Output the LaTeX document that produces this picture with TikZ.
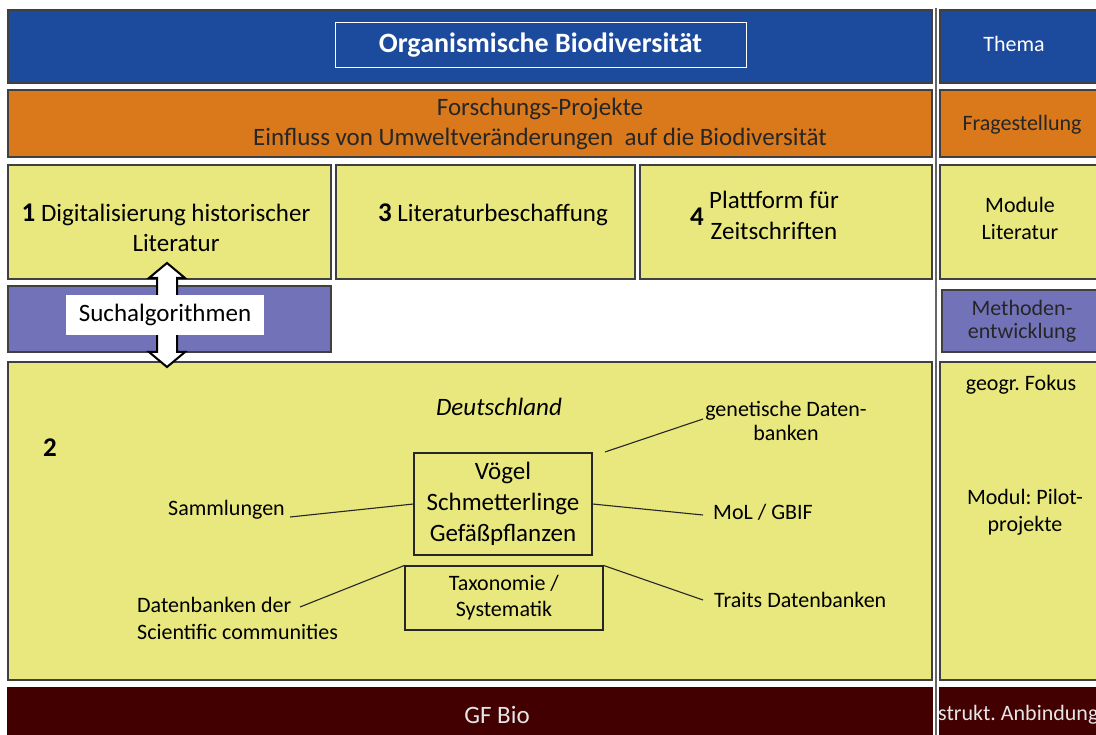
\documentclass[tikz,border=0pt]{standalone}
\usepackage{fontspec}
\setmainfont{Carlito}
\frenchspacing
\definecolor{cblue}{HTML}{1C4A9C}
\definecolor{corange}{HTML}{D9791C}
\definecolor{cyellow}{HTML}{E8E87E}
\definecolor{cpurple}{HTML}{7272B8}
\definecolor{cdred}{HTML}{430000}
\definecolor{cborder}{HTML}{404040}
\begin{document}
\begin{tikzpicture}[x=1pt,y=-1pt,
  panel/.style={draw=cborder, line width=1.2pt, inner sep=0pt, anchor=center},
  txt/.style={inner sep=0pt, align=center, font=\fontsize{25}{30}\selectfont},
  rtxt/.style={inner sep=0pt, align=center, font=\fontsize{22}{27}\selectfont},
  conn/.style={draw=black!85, line width=1.1pt}]
\useasboundingbox (0,0) rectangle (1096,735);
\clip (0,0) rectangle (1096,735);
\fill[white] (0,0) rectangle (1096,735);

% Top row
\node[panel, fill=cblue, minimum width=924, minimum height=73] (blue) at (470,46.5) {};
\node[panel, fill=cblue, minimum width=160, minimum height=73] (blueR) at (1020,46.5) {};
\node[draw=white, line width=1pt, minimum width=411, minimum height=45, inner sep=0, text=white,
      font=\fontsize{28}{30}\selectfont\bfseries] (title) at (540.5,45.5) {Organismische Biodiversität};
\node[rtxt, text=white] (thema) at (1014,44) {Thema};

% Orange row
\node[panel, fill=corange, minimum width=924, minimum height=67] (orange) at (470,123.5) {};
\node[panel, fill=corange, minimum width=160, minimum height=67] (orangeR) at (1020,123.5) {};
\node[txt, text=black!85] (fp) at (540,124) {Forschungs-Projekte\\Einfluss von Umweltveränderungen\ \ auf die Biodiversität};
\node[rtxt, text=black!85] (frag) at (1022,125) {Fragestellung};

% Yellow module row
\node[panel, fill=cyellow, minimum width=323, minimum height=114] (b1) at (169.5,222) {};
\node[panel, fill=cyellow, minimum width=299, minimum height=114] (b3) at (485.5,222) {};
\node[panel, fill=cyellow, minimum width=292, minimum height=114] (b4) at (786,222) {};
\node[panel, fill=cyellow, minimum width=160, minimum height=114] (b5) at (1020,222) {};
\node[txt] (t1) at (166,228) {{\fontsize{27}{30}\selectfont\bfseries 1} Digitalisierung historischer\\\hspace*{20pt}Literatur};
\node[txt] (t3) at (493,215) {{\fontsize{27}{30}\selectfont\bfseries 3} Literaturbeschaffung};
\node[inner sep=0, font=\fontsize{27}{30}\selectfont\bfseries] (n4) at (697,217) {4};
\node[txt, font=\fontsize{25}{31}\selectfont] (t4) at (774,215) {Plattform für\\Zeitschriften};
\node[rtxt] (t5) at (1020,218) {Module\\Literatur};

% Purple row
\node[panel, fill=cpurple, minimum width=323, minimum height=66] (pur) at (169.5,319) {};
\node[panel, fill=cpurple, minimum width=158, minimum height=62] (purR) at (1021,321) {};
\node[rtxt, font=\fontsize{22}{23}\selectfont, text=black!85] (meth) at (1022,321) {Methoden-\\entwicklung};

% Big yellow area
\node[panel, fill=cyellow, minimum width=924, minimum height=318] (big) at (470,521) {};
\node[panel, fill=cyellow, minimum width=160, minimum height=318] (bigR) at (1020,521) {};

% Double arrow between module 1 and area 2
\filldraw[fill=white, draw=black, line width=2pt, line join=miter]
  (167,263) -- (185,278) -- (177,278) -- (177,352) -- (185,352) -- (167,367)
  -- (149,352) -- (157,352) -- (157,278) -- (149,278) -- cycle;
\node[fill=white, minimum width=198, minimum height=40, inner sep=0, font=\fontsize{25}{28}\selectfont] (such) at (165,315) {Suchalgorithmen};

\node[inner sep=0, font=\fontsize{27}{30}\selectfont\bfseries] (two) at (50,448) {2};
\node[txt, font=\fontsize{25}{28}\selectfont\itshape] (de) at (499,407) {Deutschland};

\node[draw=black!85, line width=1.1pt, minimum width=178, minimum height=102, inner sep=0, align=center,
      font=\fontsize{25}{31}\selectfont] (vogel) at (503,504) {Vögel\\Schmetterlinge\\Gefäßpflanzen};
\node[draw=black!85, line width=1.1pt, minimum width=198, minimum height=64, inner sep=0, align=center,
      font=\fontsize{22}{26}\selectfont] (taxo) at (504,598) {Taxonomie /\\Systematik};

\node[rtxt, anchor=east] (samm) at (285,510) {Sammlungen};
\node[rtxt, anchor=west, align=left, font=\fontsize{22}{27}\selectfont] (dat) at (137,618) {Datenbanken der\\Scientific communities};
\node[rtxt, font=\fontsize{22}{24}\selectfont] (gen) at (786,421) {genetische Daten-\\banken};
\node[rtxt, anchor=west] (mol) at (713,512) {MoL / GBIF};
\node[rtxt, anchor=west] (traits) at (714,600) {Traits Datenbanken};

\coordinate (sammE) at (290,517);
\coordinate (datE) at (300,607);
\coordinate (genW) at (703,419);
\coordinate (genS) at (605,452);
\coordinate (molW) at (703,515);
\coordinate (traitsW) at (703,600);

\draw[conn] (sammE) -- (vogel.west);
\draw[conn] (datE) -- (taxo.north west);
\draw[conn] (genS) -- (genW);
\draw[conn] (vogel.east) -- (molW);
\draw[conn] (taxo.north east) -- (traitsW);

\node[rtxt] (geo) at (1021,385) {geogr. Fokus};
\node[rtxt] (pilot) at (1025,512) {Modul: Pilot-\\projekte};

% Bottom row
\node[panel, fill=cdred, draw=cdred, minimum width=924, minimum height=52] (gf) at (470,714) {};
\node[panel, fill=cdred, draw=cdred, minimum width=160, minimum height=52] (gfR) at (1020,714) {};
\node[txt, text=white!90!black] (gft) at (497,715) {GF Bio};
\node[txt, anchor=west, text=white!90!black, font=\fontsize{22}{28}\selectfont] (strukt) at (938,715) {strukt. Anbindung};

% Vertical separator
\fill[white] (933,8) rectangle (939,735);
\draw[cborder!80, line width=1.5pt] (936,8) -- (936,735);
\end{tikzpicture}
\end{document}
